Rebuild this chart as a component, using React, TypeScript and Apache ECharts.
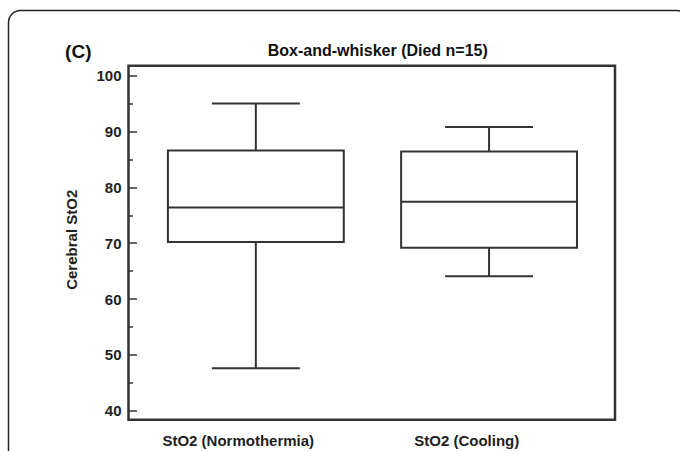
import React, { useEffect, useRef } from "react";
import * as echarts from "echarts";

const categories = ["StO2 (Normothermia)", "StO2 (Cooling)"];
// [position, low whisker, Q1, median, Q3, high whisker]
const boxData = [
  [1, 47.6, 70.2, 76.4, 86.6, 95.0],
  [2, 64.1, 69.2, 77.4, 86.4, 90.8],
];
const majorTicks = [40, 50, 60, 70, 80, 90, 100];
const minorTicks = [45, 55, 65, 75, 85, 95];
const chartTitle = "Box-and-whisker (Died n=15)";
const panelLabel = "(C)";
const yName = "Cerebral StO2";

const FONT = "'Liberation Sans', Arial, sans-serif";
const INK = "#1e1e1e";

export default function App() {
  const ref = useRef<HTMLDivElement>(null);
  useEffect(() => {
    if (!ref.current) return;
    const chart = echarts.init(ref.current, undefined, { renderer: "svg" });
    const yMin = 38.37;
    const yMax = 101.77;
    const option: any = {
      animation: false,
      backgroundColor: "#fff",
      grid: [
        { left: 128.5, top: 65.8, width: 486.5, height: 354, show: true, borderColor: "#333", borderWidth: 2.5, backgroundColor: "transparent" },
        { left: 124, top: 65.8, width: 457, height: 354, show: false },
      ],
      xAxis: [
        { type: "value", gridIndex: 0, min: 0.454, max: 2.54, axisLine: { show: false }, axisTick: { show: false }, axisLabel: { show: false }, splitLine: { show: false } },
        { type: "category", gridIndex: 1, data: categories, axisLine: { show: false }, axisTick: { show: false }, splitLine: { show: false },
          axisLabel: { margin: 13, color: INK, fontFamily: FONT, fontWeight: "bold", fontSize: 15 } },
      ],
      yAxis: [
        { type: "value", gridIndex: 0, min: yMin, max: yMax, position: "left", offset: 0,
          name: yName, nameLocation: "middle", nameGap: 50,
          nameTextStyle: { color: INK, fontFamily: FONT, fontWeight: "bold", fontSize: 15, padding: [0, 0, 0, 6] },
          axisLine: { show: false }, splitLine: { show: false },
          axisTick: { show: true, inside: true, length: 8.5, customValues: majorTicks, lineStyle: { color: "#333", width: 1.5 } },
          axisLabel: { customValues: majorTicks, margin: 7, color: INK, fontFamily: FONT, fontWeight: "bold", fontSize: 15 } },
        { type: "value", gridIndex: 0, min: yMin, max: yMax, position: "left", offset: 0,
          axisLine: { show: false }, splitLine: { show: false }, axisLabel: { show: false },
          axisTick: { show: true, inside: true, length: 4.5, customValues: minorTicks, lineStyle: { color: "#333", width: 1.5 } } },
        { type: "value", gridIndex: 1, min: yMin, max: yMax, show: false },
      ],
      graphic: [
        { type: "rect", silent: true, shape: { x: 8.5, y: 10.5, width: 680, height: 500, r: 12 }, style: { fill: "none", stroke: "#222", lineWidth: 1.5 } },
        { type: "text", x: 78.3, y: 51.5, style: { text: panelLabel, fill: "#111", font: `bold 19px ${FONT}`, textAlign: "center", textVerticalAlign: "middle" } },
        { type: "text", x: 377.8, y: 50, style: { text: chartTitle, fill: "#111", font: `bold 16px ${FONT}`, textAlign: "center", textVerticalAlign: "middle" } },
      ],
      series: [
        {
          type: "custom",
          xAxisIndex: 0,
          yAxisIndex: 0,
          data: boxData,
          encode: { x: 0, y: [1, 2, 3, 4, 5] },
          renderItem: (params: any, api: any) => {
            const x = api.value(0);
            const pLow = api.coord([x, api.value(1)]);
            const pQ1 = api.coord([x, api.value(2)]);
            const pMed = api.coord([x, api.value(3)]);
            const pQ3 = api.coord([x, api.value(4)]);
            const pHigh = api.coord([x, api.value(5)]);
            const halfBox = api.size([0.754, 0])[0] / 2;
            const halfCap = api.size([0.377, 0])[0] / 2;
            const cx = pMed[0];
            const st = { stroke: "#333", lineWidth: 2, fill: "none" };
            return {
              type: "group",
              children: [
                { type: "rect", shape: { x: cx - halfBox, y: pQ3[1], width: halfBox * 2, height: pQ1[1] - pQ3[1] }, style: st },
                { type: "line", shape: { x1: cx - halfBox, y1: pMed[1], x2: cx + halfBox, y2: pMed[1] }, style: st },
                { type: "line", shape: { x1: cx, y1: pQ3[1], x2: cx, y2: pHigh[1] }, style: st },
                { type: "line", shape: { x1: cx, y1: pQ1[1], x2: cx, y2: pLow[1] }, style: st },
                { type: "line", shape: { x1: cx - halfCap, y1: pHigh[1], x2: cx + halfCap, y2: pHigh[1] }, style: st },
                { type: "line", shape: { x1: cx - halfCap, y1: pLow[1], x2: cx + halfCap, y2: pLow[1] }, style: st },
              ],
            };
          },
        },
      ],
    };
    chart.setOption(option);
    return () => chart.dispose();
  }, []);
  return <div ref={ref} style={{ position: "fixed", left: 0, top: 0, width: 680, height: 451 }} />;
}
